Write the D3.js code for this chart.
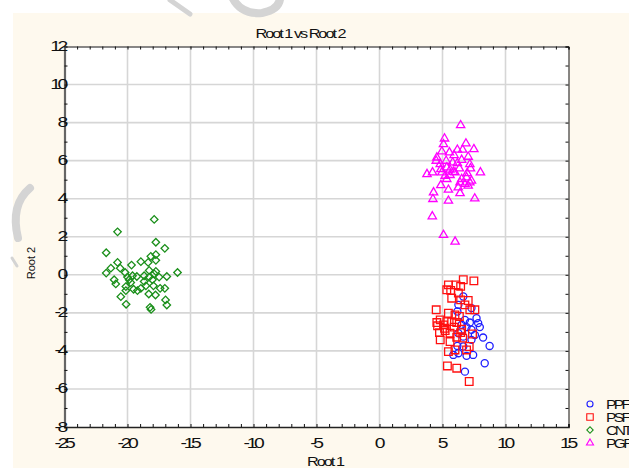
<!DOCTYPE html>
<html>
<head>
<meta charset="utf-8">
<script src="https://cdn.jsdelivr.net/npm/d3@7/dist/d3.min.js"></script>
<style>
  html, body { margin: 0; padding: 0; background: #ffffff; }
  svg { display: block; }
  text { font-family: "Liberation Sans", Arial, sans-serif; fill: #111; }
</style>
</head>
<body>
<svg id="chart" width="629" height="468"></svg>
<script>
// Group names and marker styles for the legend
const groups = ["PPF", "PSF", "CNT", "PGF"];
const groupColors = ["#1f1fff", "#ff1010", "#1a8f1a", "#ff00ff"];

// Canonical scores (Root 1, Root 2) per group
const ppfRoot1 = [6.65, 6.26, 7.30, 6.18, 7.70, 6.78, 7.17, 7.83, 6.52, 6.91, 7.96, 7.30, 6.26, 8.22, 6.65, 7.30, 6.18, 8.74, 6.65, 6.26, 6.91, 7.43, 8.35, 6.78, 5.86, 7.57];
const ppfRoot2 = [-1.14, -1.58, -1.75, -1.93, -2.28, -2.37, -2.51, -2.54, -2.63, -2.75, -2.75, -2.89, -3.07, -3.30, -3.25, -3.42, -3.74, -3.74, -3.77, -4.12, -4.26, -4.21, -4.65, -5.09, -4.21, -3.16];

const psfRoot1 = [7.49, 6.65, 5.47, 6.07, 6.44, 5.34, 5.65, 6.26, 5.73, 6.44, 7.04, 4.50, 6.78, 7.17, 7.57, 5.47, 5.99, 6.34, 4.82, 5.34, 5.73, 6.13, 4.61, 5.08, 5.92, 6.52, 4.76, 5.21, 5.60, 6.44, 7.38, 4.82, 5.60, 6.13, 6.60, 7.12, 5.47, 5.99, 6.91, 5.39, 6.13, 7.12, 4.55, 5.16];
const psfRoot2 = [-0.32, -0.26, -0.53, -0.53, -0.61, -0.79, -0.82, -0.96, -1.23, -1.32, -1.35, -1.84, -1.58, -1.84, -1.84, -2.02, -2.11, -2.19, -2.37, -2.46, -2.46, -2.51, -2.68, -2.63, -2.75, -2.86, -3.04, -2.93, -3.07, -3.04, -3.11, -3.42, -3.51, -3.28, -3.33, -3.77, -4.04, -3.95, -3.95, -4.79, -4.91, -5.61, -2.51, -2.81];

const cntRoot1 = [-17.88, -20.79, -17.75, -17.04, -21.69, -18.15, -17.75, -18.94, -18.36, -17.75, -20.79, -19.68, -21.32, -20.58, -21.69, -20.19, -16.03, -21.06, -20.93, -20.00, -19.60, -19.26, -18.68, -18.28, -17.75, -17.49, -16.88, -18.28, -18.02, -18.68, -19.74, -20.13, -19.52, -19.21, -18.94, -18.54, -17.94, -17.41, -17.04, -20.13, -18.31, -17.78, -20.53, -16.98, -16.88, -20.11, -18.21, -18.13, -19.87, -17.88];
const cntRoot2 = [2.91, 2.26, 1.71, 1.39, 1.16, 0.97, 1.06, 0.69, 0.65, 0.76, 0.65, 0.51, 0.35, 0.35, 0.09, 0.12, 0.12, -0.26, -0.48, -0.12, -0.05, -0.09, -0.05, 0.23, 0.18, -0.12, -0.09, -0.12, -0.26, -0.35, -0.41, -0.62, -0.76, -0.83, -0.71, -0.58, -0.58, -0.71, -0.71, -0.83, -1.01, -1.06, -1.15, -1.32, -1.59, -1.55, -1.71, -1.82, -0.26, 0.05];

const pgfRoot1 = [6.44, 5.16, 5.08, 6.86, 7.49, 4.95, 5.55, 6.18, 6.60, 4.55, 4.50, 5.92, 7.04, 6.52, 5.29, 4.82, 5.81, 6.18, 7.17, 4.87, 5.34, 5.60, 5.86, 6.34, 7.22, 3.77, 4.21, 4.95, 5.21, 5.60, 5.99, 6.96, 8.01, 5.34, 6.52, 6.91, 6.39, 6.78, 7.17, 7.30, 4.87, 6.25, 7.04, 5.47, 6.39, 4.29, 4.24, 5.47, 7.56, 4.19, 5.08, 6.00];
const pgfRoot2 = [7.86, 7.16, 6.86, 6.90, 6.60, 6.48, 6.43, 6.57, 6.57, 6.16, 5.99, 6.29, 6.20, 6.04, 5.99, 5.81, 5.90, 5.87, 5.81, 5.55, 5.64, 5.52, 5.41, 5.59, 5.59, 5.29, 5.38, 5.38, 5.20, 5.24, 5.38, 5.34, 5.38, 5.03, 5.03, 5.12, 4.85, 4.77, 4.85, 4.94, 4.71, 4.59, 4.68, 4.47, 4.29, 4.33, 3.98, 3.89, 4.01, 3.07, 2.09, 1.74];

// Axis ticks
const xTicks = [-25, -20, -15, -10, -5, 0, 5, 10, 15];
const yTicks = [-8, -6, -4, -2, 0, 2, 4, 6, 8, 10, 12];

const svg = d3.select("#chart");
const W = 629, H = 468;
const plot = { left: 64.5, right: 568.5, top: 46.5, bottom: 427 };

const x = d3.scaleLinear().domain([-25, 15]).range([plot.left, plot.right]);
const y = d3.scaleLinear().domain([-8, 12]).range([plot.bottom, plot.top]);

// Wide, tightly set label text
function wideText(parent, tx, ty, str, size, spacing, sx, anchor) {
  return parent.append("text")
    .attr("transform", `translate(${tx},${ty}) scale(${sx},1)`)
    .attr("font-size", size)
    .attr("letter-spacing", spacing)
    .attr("text-anchor", anchor)
    .text(str);
}

// Page background (cream panel)
svg.append("rect").attr("x", 0).attr("y", 0).attr("width", W).attr("height", H).attr("fill", "#ffffff");
svg.append("rect").attr("x", 13).attr("y", 13).attr("width", W - 13).attr("height", H - 13).attr("fill", "#fef9ee");

// faint grey stamp marks in the page margin
const stamp = svg.append("g").attr("fill", "none").attr("stroke", "#d4d4d4").attr("stroke-linecap", "round");
stamp.append("path").attr("d", "M170,0 L190,14").attr("stroke-width", 5);
stamp.append("path").attr("d", "M230,-8 Q238,15 262,13 Q282,9 280,-6").attr("stroke-width", 8);
stamp.append("path").attr("d", "M30,188 Q10,205 18,238").attr("stroke-width", 8);
stamp.append("path").attr("d", "M12,258 L17,266").attr("stroke-width", 3);

// Plot area
svg.append("rect").attr("x", plot.left).attr("y", plot.top)
  .attr("width", plot.right - plot.left).attr("height", plot.bottom - plot.top)
  .attr("fill", "#ffffff");

// Gridlines at major ticks
const grid = svg.append("g").attr("stroke", "#d6d6d6").attr("stroke-width", 1.6);
xTicks.slice(1, -1).forEach(v => {
  grid.append("line").attr("x1", x(v)).attr("x2", x(v)).attr("y1", plot.top).attr("y2", plot.bottom);
});
yTicks.slice(1, -1).forEach(v => {
  grid.append("line").attr("x1", plot.left).attr("x2", plot.right).attr("y1", y(v)).attr("y2", y(v));
});

// Axes: ticks drawn inward on all four sides, one per unit
const xMinor = d3.range(-25, 16, 1);
const yMinor = d3.range(-8, 13, 1);
const axisBottom = d3.axisTop(x).tickValues(xMinor).tickSize(3).tickFormat("");
const axisTopG = d3.axisBottom(x).tickValues(xMinor).tickSize(3).tickFormat("");
const axisLeft = d3.axisRight(y).tickValues(yMinor).tickSize(3).tickFormat("");
const axisRight = d3.axisLeft(y).tickValues(yMinor).tickSize(3).tickFormat("");

function styleAxis(g, color, width) {
  g.select(".domain").attr("stroke", color).attr("stroke-width", width);
  g.selectAll(".tick line").attr("stroke", "#111").attr("stroke-width", 1);
}
styleAxis(svg.append("g").attr("transform", `translate(0,${plot.top})`).call(axisTopG), "#111", 1);
styleAxis(svg.append("g").attr("transform", `translate(${plot.right},0)`).call(axisRight), "#111", 1);
styleAxis(svg.append("g").attr("transform", `translate(0,${plot.bottom})`).call(axisBottom), "#222", 1.6);
styleAxis(svg.append("g").attr("transform", `translate(${plot.left},0)`).call(axisLeft), "#666", 2.2);

// Tick labels
const xLab = svg.append("g");
xTicks.forEach(d => wideText(xLab, x(d) - 1, 448, d, 14, -2.4, 1.38, "middle"));
const yLab = svg.append("g");
yTicks.forEach(d => wideText(yLab, 65, y(d) + 4.5, d, 14, -2.4, 1.38, "end"));

// Titles
wideText(svg, 300, 38, "Root 1 vs Root 2", 13, -1.6, 1.25, "middle");
wideText(svg, 325, 466, "Root 1", 13, -1.6, 1.25, "middle");
svg.append("text").attr("transform", "translate(35,263) rotate(-90)").attr("text-anchor", "middle")
  .attr("font-size", 11).attr("fill", "#333")
  .text("Root 2");

// Marker shapes
const shapes = [
  d3.symbol().type(d3.symbolCircle).size(40)(),
  d3.symbol().type(d3.symbolSquare).size(58)(),
  d3.symbol().type(d3.symbolSquare).size(28)(),
  d3.symbol().type(d3.symbolTriangle).size(30)()
];
const shapeRotate = [0, 0, 45, 0];

const series = [
  { xs: ppfRoot1, ys: ppfRoot2 },
  { xs: psfRoot1, ys: psfRoot2 },
  { xs: cntRoot1, ys: cntRoot2 },
  { xs: pgfRoot1, ys: pgfRoot2 }
];

const marks = svg.append("g");
series.forEach((s, i) => {
  marks.append("g").selectAll("path").data(d3.range(s.xs.length)).join("path")
    .attr("d", shapes[i])
    .attr("transform", k => `translate(${x(s.xs[k])},${y(s.ys[k])}) rotate(${shapeRotate[i]})`)
    .attr("fill", "none")
    .attr("stroke", groupColors[i])
    .attr("stroke-width", 1.3);
});

// Legend
const legend = svg.append("g");
groups.forEach((name, i) => {
  const ly = 404 + i * 13;
  legend.append("path").attr("d", shapes[i])
    .attr("transform", `translate(590,${ly}) rotate(${shapeRotate[i]}) scale(0.85)`)
    .attr("fill", "none").attr("stroke", groupColors[i]).attr("stroke-width", 1.3);
  wideText(legend, 606, ly + 4.5, name, 12, -2, 1.3, "start");
});
</script>
</body>
</html>
